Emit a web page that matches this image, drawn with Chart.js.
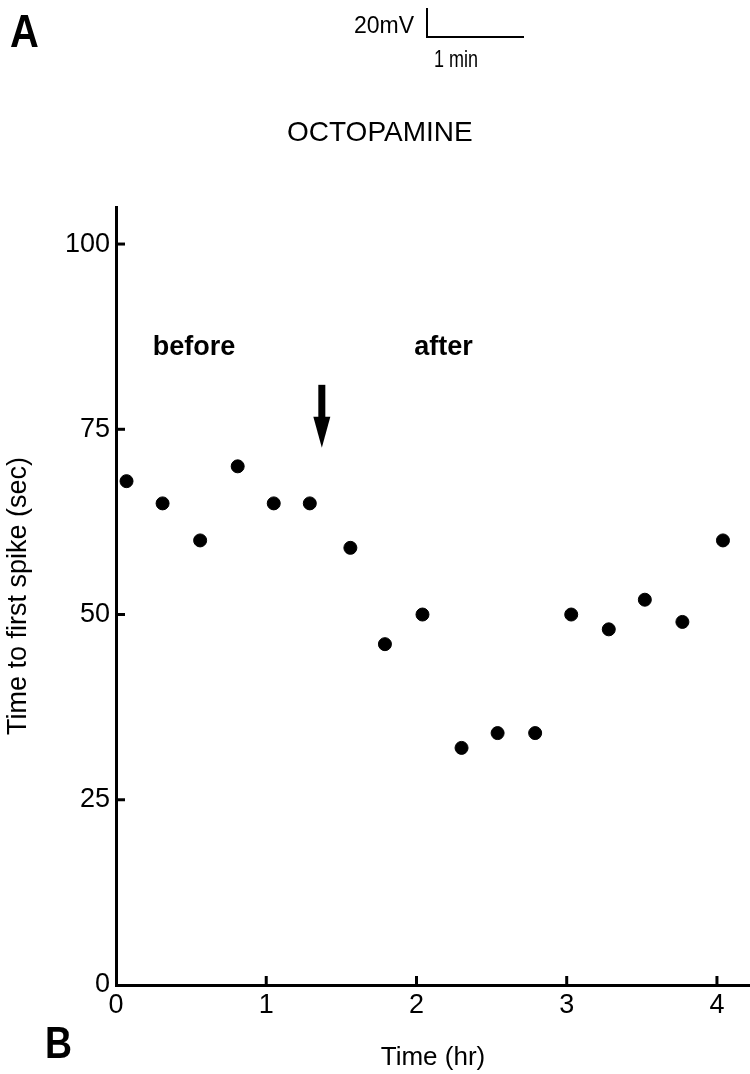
<!DOCTYPE html>
<html>
<head>
<meta charset="utf-8">
<script src="https://cdn.jsdelivr.net/npm/chart.js@4.4.1/dist/chart.umd.min.js"></script>
<style>
  body { margin: 0; background: #fff; }
  #wrap { position: relative; width: 750px; height: 1074px; }
  .lbl { position: absolute; font-family: 'Liberation Sans', Arial, sans-serif; color: #000; white-space: nowrap; line-height: 1; }
  .bold { font-weight: bold; transform: scaleX(0.85); transform-origin: left top; }
  .narrow { transform: scaleX(0.75); transform-origin: left top; }
</style>
</head>
<body>
<div id="wrap">
  <canvas id="myChart"></canvas>
  <div class="lbl bold" style="left:10px; top:7px; font-size:47px;">A</div>
  <div class="lbl" style="left:354px; top:14px; font-size:23px;">20mV</div>
  <div style="position:absolute; left:426px; top:8px; width:96px; height:28px; border-left:2px solid #000; border-bottom:2px solid #000;"></div>
  <div class="lbl narrow" style="left:434px; top:47px; font-size:24px;">1 min</div>
  <div class="lbl" style="left:287px; top:118px; font-size:28px;">OCTOPAMINE</div>
  <div class="lbl bold" style="left:45px; top:1021px; font-size:44px;">B</div>
</div>
<script>
// Values
const times = [0.07, 0.31, 0.56, 0.81, 1.05, 1.29, 1.56, 1.79, 2.04, 2.30, 2.54, 2.79, 3.03, 3.28, 3.52, 3.77, 4.04];
const spikeLatency = [68, 65, 60, 70, 65, 65, 59, 46, 50, 32, 34, 34, 50, 48, 52, 49, 60];
const xTicks = [0, 1, 2, 3, 4];
const yTicks = [0, 25, 50, 75, 100];
const drugTime = 1.37;
const phaseLabels = ['before', 'after'];
const phaseX = [0.52, 2.18];

const font = "'Liberation Sans', Arial, sans-serif";

// inward tick marks, before/after labels and the drug arrow
const markup = {
    id: 'markup',
    afterDatasetsDraw(chart) {
        const { ctx, scales: { x, y } } = chart;
        ctx.save();
        ctx.strokeStyle = '#000';
        ctx.fillStyle = '#000';
        ctx.lineWidth = 3;
        yTicks.filter(v => v > 0).forEach(v => {
            const py = y.getPixelForValue(v);
            ctx.beginPath();
            ctx.moveTo(x.left, py);
            ctx.lineTo(x.left + 9, py);
            ctx.stroke();
        });
        xTicks.filter(v => v > 0).forEach(v => {
            const px = x.getPixelForValue(v);
            ctx.beginPath();
            ctx.moveTo(px, y.bottom);
            ctx.lineTo(px, y.bottom - 9);
            ctx.stroke();
        });

        ctx.font = "bold 27px " + font;
        ctx.textAlign = 'center';
        ctx.textBaseline = 'alphabetic';
        phaseLabels.forEach((t, i) => {
            ctx.fillText(t, x.getPixelForValue(phaseX[i]), y.getPixelForValue(85));
        });

        // arrow
        const ax = x.getPixelForValue(drugTime);
        const top = y.getPixelForValue(81);
        const neck = y.getPixelForValue(76.7);
        const tip = y.getPixelForValue(72.5);
        ctx.fillRect(ax - 3.5, top, 7, neck - top + 1);
        ctx.beginPath();
        ctx.moveTo(ax - 8.5, neck);
        ctx.lineTo(ax + 8.5, neck);
        ctx.lineTo(ax, tip);
        ctx.closePath();
        ctx.fill();
        ctx.restore();
    }
};

const ctx = document.getElementById('myChart').getContext('2d');
const myChart = new Chart(ctx, {
    type: 'scatter',
    data: {
        datasets: [{
            data: times.map((t, i) => ({ x: t, y: spikeLatency[i] })),
            backgroundColor: '#000',
            borderColor: '#000',
            pointRadius: 6.5,
            pointHoverRadius: 6.5,
            clip: false
        }]
    },
    options: {
        responsive: true,
        maintainAspectRatio: false,
        animation: false,
        layout: { autoPadding: false, padding: { top: 207, left: 0, right: 0, bottom: 0 } },
        plugins: {
            legend: { display: false },
            tooltip: { enabled: false }
        },
        scales: {
            x: {
                type: 'linear',
                min: 0,
                max: 4.22,
                afterFit(s) { s.height = 89; },
                afterBuildTicks(s) { s.ticks = xTicks.map(v => ({ value: v })); },
                border: { color: '#000', width: 3 },
                grid: { display: false, drawTicks: false },
                ticks: { color: '#000', font: { family: font, size: 27 }, padding: 4, maxRotation: 0 },
                title: { display: true, text: 'Time (hr)', color: '#000', font: { family: font, size: 26 }, padding: { top: 0, bottom: 1 } }
            },
            y: {
                min: 0,
                max: 105,
                afterFit(s) { s.width = 116; },
                afterBuildTicks(s) { s.ticks = yTicks.map(v => ({ value: v })); },
                border: { color: '#000', width: 3 },
                grid: { display: false, drawTicks: false },
                ticks: { color: '#000', font: { family: font, size: 27 }, padding: 6 },
                title: { display: true, text: 'Time to first spike (sec)', color: '#000', font: { family: font, size: 27 }, padding: { top: 2, bottom: 0 } }
            }
        }
    },
    plugins: [markup]
});
</script>
</body>
</html>
